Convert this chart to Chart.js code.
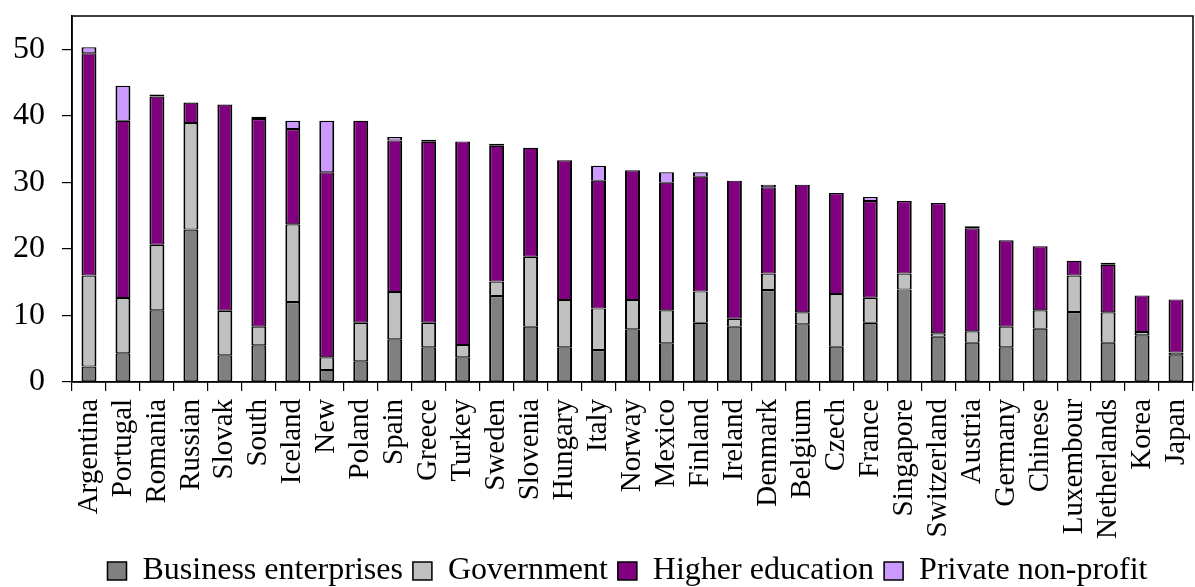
<!DOCTYPE html>
<html>
<head>
<meta charset="utf-8">
<script src="https://cdn.jsdelivr.net/npm/chart.js@4.4.1/dist/chart.umd.min.js"></script>
<style>
  html, body { margin: 0; padding: 0; background: #ffffff; }
  #chart { display: block; }
</style>
</head>
<body>
<canvas id="chart" width="1195" height="587"></canvas>
<script>
// Countries, ordered by total researchers share
const countries = ["Argentina", "Portugal", "Romania", "Russian", "Slovak", "South", "Iceland", "New",
  "Poland", "Spain", "Greece", "Turkey", "Sweden", "Slovenia", "Hungary", "Italy", "Norway", "Mexico",
  "Finland", "Ireland", "Denmark", "Belgium", "Czech", "France", "Singapore", "Switzerland", "Austria",
  "Germany", "Chinese", "Luxembour", "Netherlands", "Korea", "Japan"];

// Sector contributions (stacked)
const businessEnterprises = [2.3, 4.3, 10.75, 22.9, 4.0, 5.5, 12.0, 1.8, 3.1, 6.4, 5.2, 3.7, 12.9, 8.3,
  5.2, 4.8, 7.9, 5.8, 8.9, 8.3, 13.8, 8.65, 5.3, 8.9, 13.9, 6.8, 5.9, 5.2, 8.0, 10.5, 5.9, 7.0, 4.0];
const government = [13.7, 8.3, 9.85, 16.0, 6.7, 2.8, 11.7, 1.9, 5.8, 7.1, 3.7, 1.85, 2.2, 10.5, 7.1,
  6.25, 4.4, 4.95, 4.7, 1.2, 2.5, 1.8, 7.9, 3.75, 2.4, 0.5, 1.7, 3.1, 2.75, 5.5, 4.55, 0.5, 0.4];
const higherEducation = [33.4, 26.65, 22.3, 3.1, 31.0, 31.2, 14.3, 27.8, 30.35, 22.8, 27.2, 30.6, 20.4,
  16.4, 21.0, 19.2, 19.5, 19.2, 17.25, 20.75, 12.95, 19.2, 15.2, 14.55, 10.9, 19.6, 15.5, 13.0, 9.65,
  2.2, 7.15, 5.5, 8.0];
const privateNonProfit = [0.9, 5.25, 0.3, 0, 0, 0.35, 1.25, 7.75, 0, 0.5, 0.3, 0, 0.3, 0, 0, 2.25, 0,
  1.55, 0.65, 0, 0.4, 0, 0, 0.6, 0, 0, 0.3, 0, 0, 0, 0.3, 0, 0];

const seriesNames = ["Business enterprises", "Government", "Higher education", "Private non-profit"];
const seriesColors = ["#808080", "#c0c0c0", "#800080", "#cc99ff"];
const seriesValues = [businessEnterprises, government, higherEducation, privateNonProfit];

const yTickValues = [0, 10, 20, 30, 40, 50];

const serif = "'Liberation Serif', 'Times New Roman', serif";

// Full frame around the plot area, and a small nudge of the legend row
const frame = {
  id: 'frame',
  afterLayout(chart) {
    chart.legend.left += 31;
    chart.legend.right += 31;
  },
  beforeDatasetsDraw(chart) {
    const a = chart.chartArea, ctx = chart.ctx;
    ctx.save();
    ctx.strokeStyle = '#000';
    ctx.lineWidth = 1.5;
    ctx.strokeRect(a.left, a.top, a.right - a.left, a.bottom - a.top);
    ctx.restore();
  }
};

new Chart(document.getElementById('chart'), {
  type: 'bar',
  data: {
    labels: countries,
    datasets: seriesValues.map((vals, i) => ({
      label: seriesNames[i],
      data: vals,
      backgroundColor: seriesColors[i],
      borderColor: '#000',
      borderWidth: { top: 1.2, bottom: 1, left: 2, right: 2 },
      borderSkipped: false,
      barPercentage: 0.44,
      categoryPercentage: 1.0
    }))
  },
  options: {
    responsive: false,
    animation: false,
    devicePixelRatio: 1,
    layout: { padding: { top: 16, right: 2, left: 0, bottom: -10 } },
    plugins: {
      tooltip: { enabled: false },
      legend: {
        position: 'bottom',
        labels: {
          color: '#000',
          font: { family: serif, size: 32 },
          boxWidth: 19,
          boxHeight: 18,
          padding: 10
        }
      }
    },
    scales: {
      x: {
        stacked: true,
        afterFit(scale) {
          scale.height -= 2;
          scale.paddingLeft = 0;
          scale.paddingRight = 0;
        },
        grid: { drawOnChartArea: false, offset: true, color: '#000', tickLength: 9, lineWidth: 1.2 },
        border: { color: '#000', width: 1.5 },
        ticks: {
          color: '#000',
          font: { family: serif, size: 29 },
          minRotation: 90,
          maxRotation: 90,
          autoSkip: false,
          padding: 8
        }
      },
      y: {
        stacked: true,
        min: 0,
        max: 55,
        afterFit(scale) {
          scale.width = 72;
          scale.paddingTop = 0;
          scale.paddingBottom = 0;
        },
        afterBuildTicks(scale) { scale.ticks = yTickValues.map(v => ({ value: v })); },
        grid: { drawOnChartArea: false, color: '#000', tickLength: 10, lineWidth: 1.2 },
        border: { color: '#000', width: 1.5 },
        ticks: {
          color: '#000',
          font: { family: serif, size: 32 },
          padding: 17
        }
      }
    }
  },
  plugins: [frame]
});
</script>
</body>
</html>
